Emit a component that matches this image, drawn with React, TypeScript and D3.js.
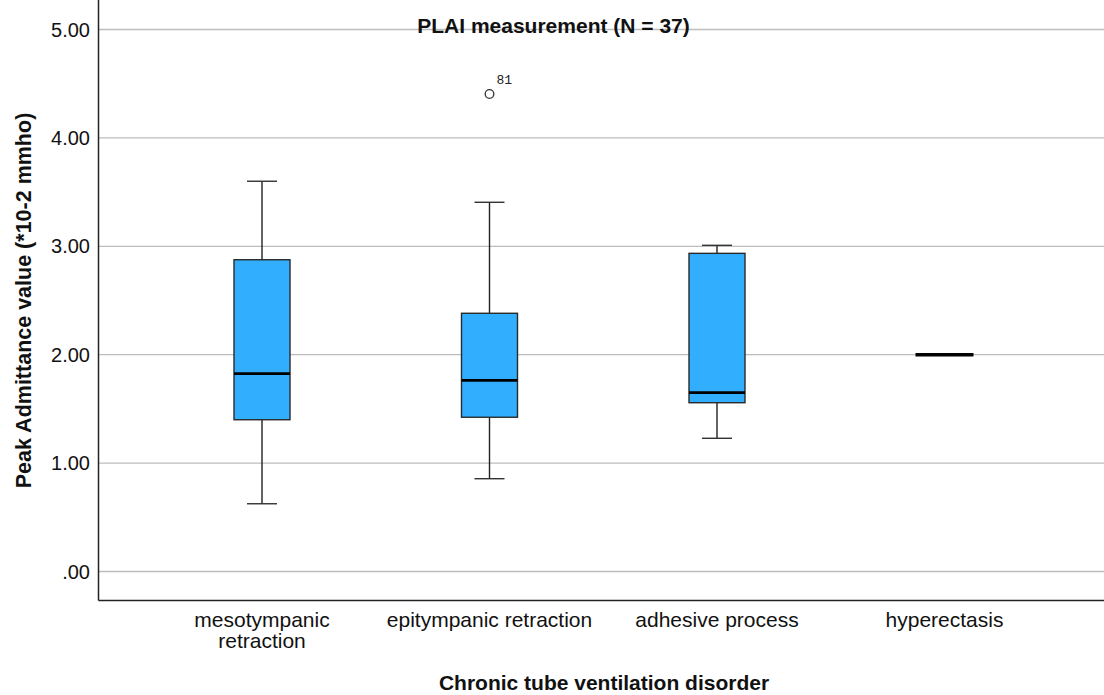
import React from "react";
import * as d3 from "d3";

const categories = ["mesotympanic retraction", "epitympanic retraction", "adhesive process", "hyperectasis"];
const categoryLines = [["mesotympanic", "retraction"], ["epitympanic retraction"], ["adhesive process"], ["hyperectasis"]];
const whiskerLow = [0.625, 0.856, 1.229, 2.0];
const q1 = [1.40, 1.423, 1.557, 2.0];
const median = [1.825, 1.764, 1.65, 2.0];
const q3 = [2.876, 2.382, 2.935, 2.0];
const whiskerHigh = [3.60, 3.406, 3.009, 2.0];
const outliers = [{ cat: "epitympanic retraction", value: 4.405, label: "81" }];
const yTicks = [0, 1, 2, 3, 4, 5];
const yTickLabels = [".00", "1.00", "2.00", "3.00", "4.00", "5.00"];

const W = 1104;
const H = 695;
const left = 98.5;
const right = 1104;
const top = 0;
const bottom = 600.5;

export default function App() {
  const y = d3.scaleLinear().domain([-0.2675, 5.272]).range([bottom, top]);
  const x = d3.scalePoint<string>().domain(categories).range([262, 944.5]);
  const boxW = 56;
  const capW = 30;
  const font = "'Liberation Sans', Arial, Helvetica, sans-serif";
  const fill = "#32aeff";

  return (
    <svg width={W} height={H} style={{ position: "absolute", left: 0, top: 0, background: "#fff" }} fontFamily={font}>
      <rect x={0} y={0} width={W} height={H} fill="#fff" />
      {yTicks.map((t) => (
        <line key={"g" + t} x1={left} x2={right} y1={y(t)} y2={y(t)} stroke="#bdbdbd" strokeWidth={1.3} />
      ))}
      <line x1={left} x2={left} y1={top} y2={bottom} stroke="#222" strokeWidth={1.5} />
      <line x1={left} x2={right} y1={bottom} y2={bottom} stroke="#222" strokeWidth={1.5} />
      {yTicks.map((t, i) => (
        <text key={"t" + t} x={90} y={y(t)} dy="0.36em" textAnchor="end" fontSize={20} fill="#111">
          {yTickLabels[i]}
        </text>
      ))}
      {categories.map((c, i) => {
        const cx = x(c)!;
        if (q1[i] === q3[i]) {
          return (
            <line key={c} x1={cx - 29} x2={cx + 29} y1={y(median[i])} y2={y(median[i])} stroke="#000" strokeWidth={3.5} />
          );
        }
        return (
          <g key={c}>
            <line x1={cx} x2={cx} y1={y(whiskerHigh[i])} y2={y(q3[i])} stroke="#222" strokeWidth={1.4} />
            <line x1={cx} x2={cx} y1={y(q1[i])} y2={y(whiskerLow[i])} stroke="#222" strokeWidth={1.4} />
            <line x1={cx - capW / 2} x2={cx + capW / 2} y1={y(whiskerHigh[i])} y2={y(whiskerHigh[i])} stroke="#333" strokeWidth={1.4} />
            <line x1={cx - capW / 2} x2={cx + capW / 2} y1={y(whiskerLow[i])} y2={y(whiskerLow[i])} stroke="#333" strokeWidth={1.4} />
            <rect
              x={cx - boxW / 2}
              y={y(q3[i])}
              width={boxW}
              height={y(q1[i]) - y(q3[i])}
              fill={fill}
              stroke="#2a2a2a"
              strokeWidth={1.4}
            />
            <line x1={cx - boxW / 2} x2={cx + boxW / 2} y1={y(median[i])} y2={y(median[i])} stroke="#000" strokeWidth={2.8} />
          </g>
        );
      })}
      {outliers.map((o) => (
        <g key={o.label}>
          <circle cx={x(o.cat)!} cy={y(o.value)} r={4.3} fill="#fff" stroke="#333" strokeWidth={1.3} />
          <text x={x(o.cat)! + 7} y={y(o.value) - 10} fontSize={13} fontFamily="'Liberation Mono', 'DejaVu Sans Mono', monospace" fill="#222">
            {o.label}
          </text>
        </g>
      ))}
      {categories.map((c, i) =>
        categoryLines[i].map((ln, j) => (
          <text key={"c" + c + j} x={x(c)!} y={627 + j * 21} textAnchor="middle" fontSize={21} fill="#111">
            {ln}
          </text>
        ))
      )}
      <text x={553.5} y={33} textAnchor="middle" fontSize={21} fontWeight="bold" fill="#111">
        PLAI measurement (N = 37)
      </text>
      <text x={604} y={690} textAnchor="middle" fontSize={21} fontWeight="bold" fill="#111">
        Chronic tube ventilation disorder
      </text>
      <text transform={`translate(30.5,300.5) rotate(-90)`} textAnchor="middle" fontSize={21.5} fontWeight="bold" fill="#111">
        Peak Admittance value (*10-2 mmho)
      </text>
    </svg>
  );
}
